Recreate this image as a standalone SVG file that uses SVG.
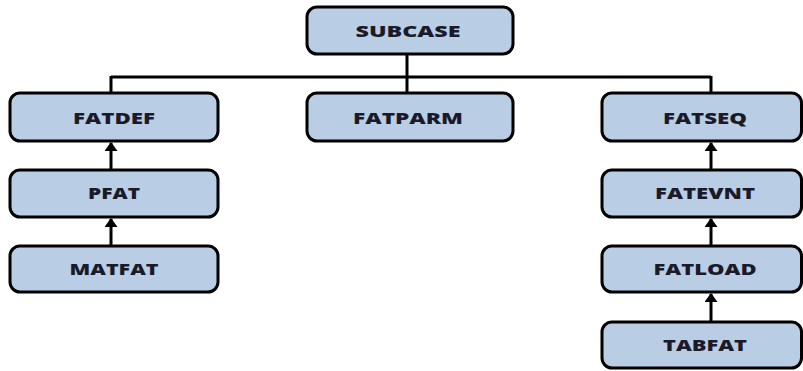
<svg xmlns="http://www.w3.org/2000/svg" width="803" height="371" viewBox="0 0 803 371">
  <style>
    .box { fill: #b9cde5; stroke: #000; stroke-width: 3; }
    .lbl { font-family: "Open Sans", "Liberation Sans", sans-serif; font-weight: 800; font-size: 16px; fill: #1a1a2a; text-anchor: middle; }
    .wire { fill: none; stroke: #000; stroke-width: 3; }
  </style>
  <defs>
    <marker id="head" markerUnits="userSpaceOnUse" markerWidth="9" markerHeight="13" refX="8" refY="6.5" orient="auto">
      <path d="M0,0 L9,6.5 L0,13 Z" fill="#000"/>
    </marker>
  </defs>

  <g id="connectors">
    <!-- tree from SUBCASE to the three second-level nodes -->
    <path class="wire" d="M407,54 V77 M111,77 H711 M111,76 V93 M407,77 V93 M711,76 V93"/>
    <!-- left chain -->
    <line class="wire" x1="111" y1="170" x2="111" y2="143" marker-end="url(#head)"/>
    <line class="wire" x1="111" y1="246" x2="111" y2="219" marker-end="url(#head)"/>
    <!-- right chain -->
    <line class="wire" x1="711" y1="170" x2="711" y2="143" marker-end="url(#head)"/>
    <line class="wire" x1="711" y1="246" x2="711" y2="219" marker-end="url(#head)"/>
    <line class="wire" x1="711" y1="322" x2="711" y2="294" marker-end="url(#head)"/>
  </g>

  <g id="subcase">
    <rect class="box" x="307" y="7" width="206" height="47" rx="10"/>
    <text class="lbl" x="408" y="37" textLength="105" lengthAdjust="spacingAndGlyphs">SUBCASE</text>
  </g>

  <g id="fatdef">
    <rect class="box" x="10" y="93" width="208" height="48" rx="10"/>
    <text class="lbl" x="114" y="124" textLength="82" lengthAdjust="spacingAndGlyphs">FATDEF</text>
  </g>
  <g id="pfat">
    <rect class="box" x="10" y="170" width="208" height="47" rx="10"/>
    <text class="lbl" x="114" y="199" textLength="52" lengthAdjust="spacingAndGlyphs">PFAT</text>
  </g>
  <g id="matfat">
    <rect class="box" x="10" y="246" width="208" height="46" rx="10"/>
    <text class="lbl" x="114" y="275" textLength="89" lengthAdjust="spacingAndGlyphs">MATFAT</text>
  </g>

  <g id="fatparm">
    <rect class="box" x="307" y="93" width="206" height="48" rx="10"/>
    <text class="lbl" x="408" y="124" textLength="110" lengthAdjust="spacingAndGlyphs">FATPARM</text>
  </g>

  <g id="fatseq">
    <rect class="box" x="602" y="93" width="199.5" height="48" rx="10"/>
    <text class="lbl" x="705" y="124" textLength="84" lengthAdjust="spacingAndGlyphs">FATSEQ</text>
  </g>
  <g id="fatevnt">
    <rect class="box" x="602" y="170" width="199.5" height="47" rx="10"/>
    <text class="lbl" x="705" y="199" textLength="100" lengthAdjust="spacingAndGlyphs">FATEVNT</text>
  </g>
  <g id="fatload">
    <rect class="box" x="602" y="246" width="199.5" height="46" rx="10"/>
    <text class="lbl" x="705" y="275" textLength="103" lengthAdjust="spacingAndGlyphs">FATLOAD</text>
  </g>
  <g id="tabfat">
    <rect class="box" x="602" y="322" width="199.5" height="46" rx="10"/>
    <text class="lbl" x="705" y="351" textLength="84" lengthAdjust="spacingAndGlyphs">TABFAT</text>
  </g>
</svg>
